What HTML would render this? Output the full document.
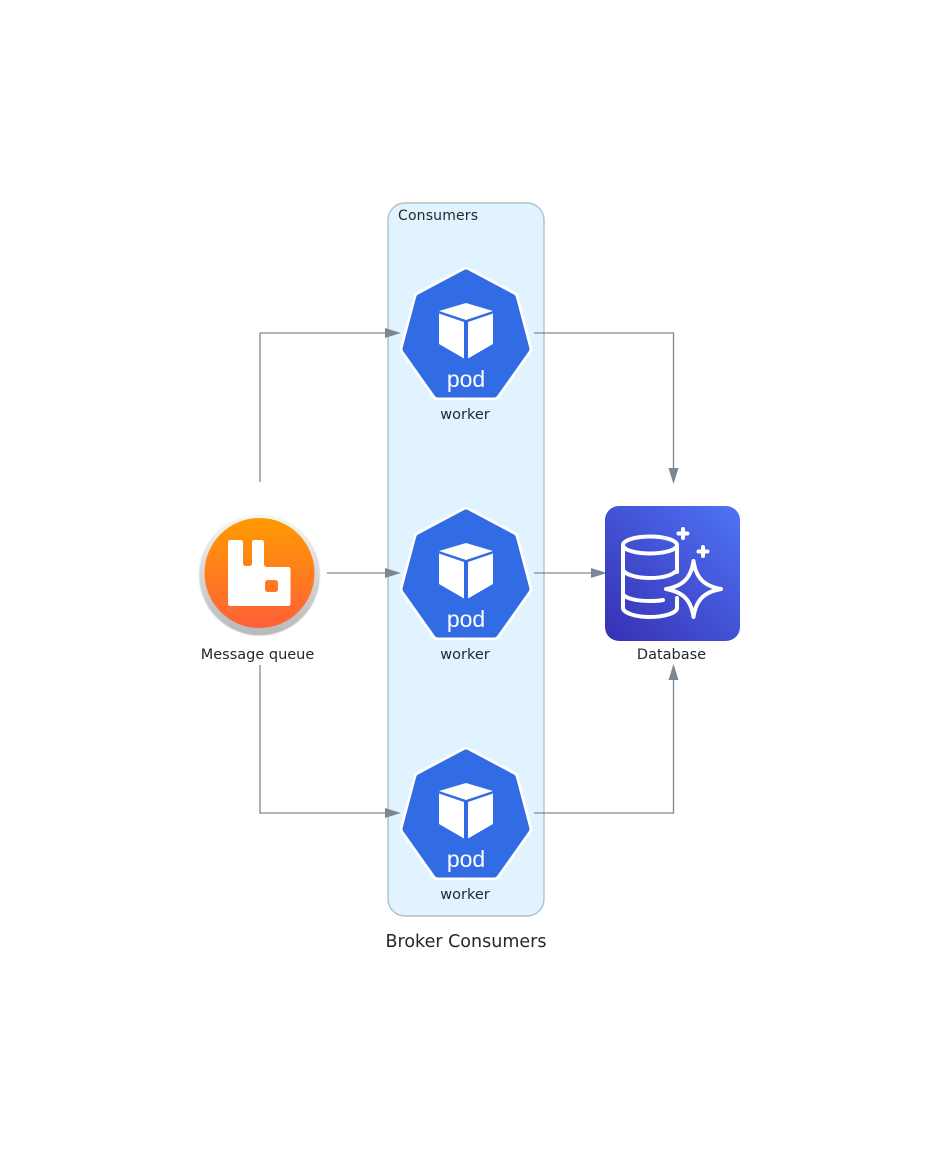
<!DOCTYPE html>
<html><head><meta charset="utf-8"><style>
html,body{margin:0;padding:0;background:#fff;width:932px;height:1152px;overflow:hidden}
svg{display:block}
text{font-family:"DejaVu Sans",sans-serif;fill:#23282b}
</style></head><body>
<svg width="932" height="1152" viewBox="0 0 932 1152" xmlns="http://www.w3.org/2000/svg">
<defs>
<linearGradient id="o" x1="0" y1="0" x2="0" y2="1"><stop offset="0" stop-color="#ff9a00"/><stop offset="1" stop-color="#ff6138"/></linearGradient>
<linearGradient id="r" x1="0" y1="0" x2="0" y2="1"><stop offset="0" stop-color="#f6f6f6"/><stop offset="1" stop-color="#b8b8b8"/></linearGradient>
<linearGradient id="d" x1="0" y1="1" x2="1" y2="0"><stop offset="0" stop-color="#3730b4"/><stop offset="1" stop-color="#4e74f5"/></linearGradient>
<filter id="b" x="-10%" y="-10%" width="120%" height="120%"><feGaussianBlur stdDeviation="0.5"/></filter>
<g id="pod">
<path d="M466 273.500L512 298L525.500 349L494 393.500H438L406.500 349L420 298Z" fill="#fff" stroke="#fff" stroke-width="13.500" stroke-linejoin="round"/>
<path d="M466 273.500L512 298L525.500 349L494 393.500H438L406.500 349L420 298Z" fill="#326ce5" stroke="#326ce5" stroke-width="8" stroke-linejoin="round"/>
<path d="M466 303L493 311L466 320L439 311Z" fill="#fff"/>
<path d="M439 313.500L464 322V358.500L439 344Z" fill="#fff"/>
<path d="M493 313.500L468 322V358.500L493 344Z" fill="#fff"/>
<text x="466" y="387" text-anchor="middle" style="font-family:'Liberation Sans',sans-serif;font-size:23px;fill:#fff">pod</text>
</g>
</defs>
<rect x="388" y="203" width="156" height="713" rx="17" fill="#e1f3fe" stroke="#b2c0cc" stroke-width="1.400"/>
<text x="398" y="220" style="font-size:14px" textLength="80">Consumers</text>
<use href="#pod"/>
<use href="#pod" y="240"/>
<use href="#pod" y="480"/>
<text x="465" y="419" text-anchor="middle" font-size="14.500">worker</text>
<text x="465" y="659" text-anchor="middle" font-size="14.500">worker</text>
<text x="465" y="899" text-anchor="middle" font-size="14.500">worker</text>
<g fill="none" stroke="#7b8794" stroke-width="1.300">
<path d="M260 482V333H390"/>
<path d="M327 573H390"/>
<path d="M260 665V813H390"/>
<path d="M534 333H673.500V472"/>
<path d="M534 573H594"/>
<path d="M534 813H673.500V676"/>
</g>
<g fill="#7b8794">
<path d="M401 333L385 328V338Z"/>
<path d="M401 573L385 568V578Z"/>
<path d="M401 813L385 808V818Z"/>
<path d="M607 573L591 568V578Z"/>
<path d="M673.500 484L668.500 468H678.500Z"/>
<path d="M673.500 664L668.500 680H678.500Z"/>
</g>
<circle cx="259.500" cy="575" r="60.500" fill="url(#r)" filter="url(#b)"/>
<circle cx="259.500" cy="573" r="55" fill="url(#o)"/>
<path fill="#fff" fill-rule="evenodd" d="M230.500 540H240.500Q243 540 243 542.500V563Q243 566 246 566H249Q252 566 252 563V542.500Q252 540 254.500 540H261.500Q264 540 264 542.500V564Q264 567 267 567H288Q290.500 567 290.500 569.500V603.500Q290.500 606 288 606H230.500Q228 606 228 603.500V542.500Q228 540 230.500 540ZM268 580Q265 580 265 583V589Q265 592 268 592H275Q278 592 278 589V583Q278 580 275 580Z"/>
<rect x="605" y="506" width="135" height="135" rx="14" fill="url(#d)"/>
<g fill="none" stroke="#fff" stroke-width="4" stroke-linecap="round" stroke-linejoin="round">
<ellipse cx="650" cy="545" rx="27" ry="8.500"/>
<path d="M623 545V608C623 613 636 617 650 617C664 617 677 613 677 608V598"/>
<path d="M677 545V572"/>
<path d="M623 569C623 574 636 578 650 578C661 578 670 576 675 572"/>
<path d="M623 593C623 598 636 601 650 601C655 601 659 601 663 600"/>
<path d="M693.500 561C696 578 704 586 721 589C704 592 696 600 693.500 617C691 600 683 592 666 589C683 586 691 578 693.500 561Z"/>
<path d="M683 529V538M678.500 533.500H687.500M703 547V556M698.500 551.500H707.500"/>
</g>
<text x="257.500" y="659" text-anchor="middle" font-size="14.500">Message queue</text>
<text x="671.500" y="659" text-anchor="middle" font-size="14.500">Database</text>
<text x="466" y="947" text-anchor="middle" font-size="17.500">Broker Consumers</text>
</svg>
</body></html>
